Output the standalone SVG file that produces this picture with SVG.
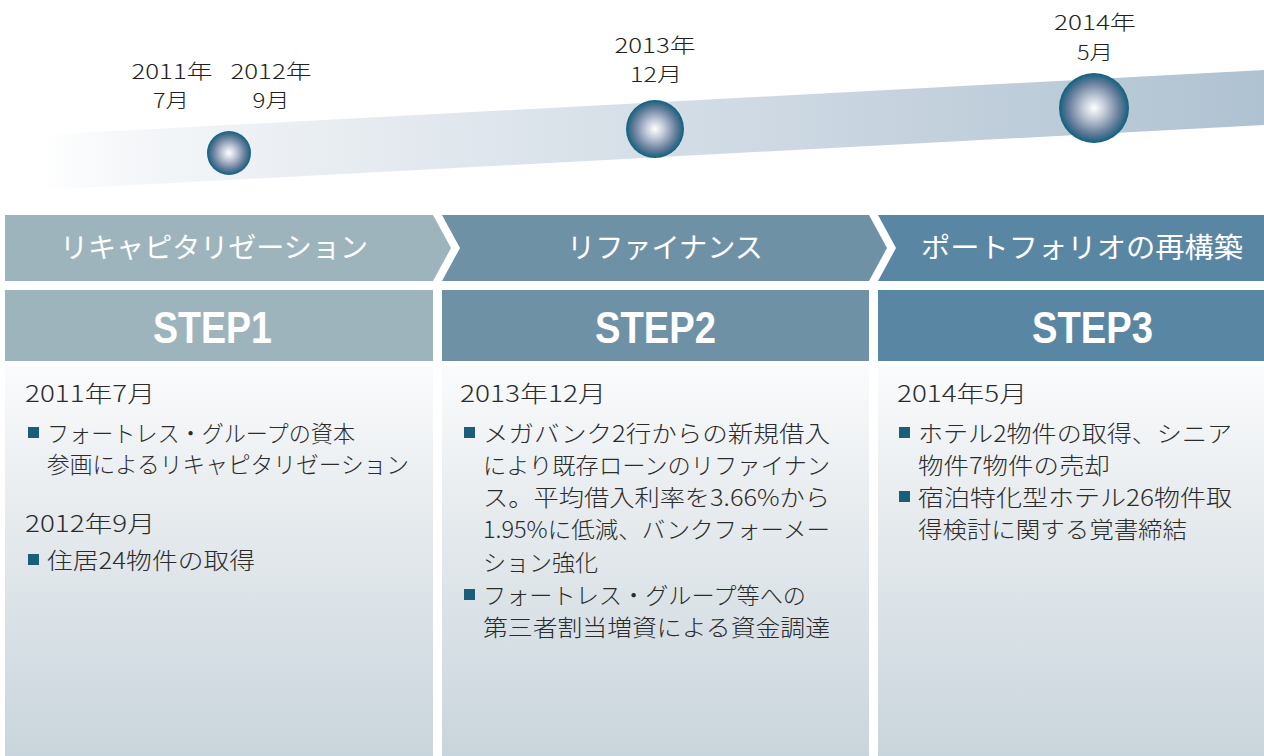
<svg xmlns="http://www.w3.org/2000/svg" width="1264" height="756" viewBox="0 0 1264 756">
  <defs>
    <linearGradient id="band" gradientUnits="userSpaceOnUse" x1="40" y1="0" x2="1264" y2="0">
      <stop offset="0" stop-color="#ffffff"/>
      <stop offset="0.06" stop-color="#f6f8fa"/>
      <stop offset="0.25" stop-color="#e7ecf1"/>
      <stop offset="0.5" stop-color="#d5dee7"/>
      <stop offset="1" stop-color="#afc2d1"/>
    </linearGradient>
    <radialGradient id="ball" cx="0.5" cy="0.5" r="0.5">
      <stop offset="0" stop-color="#ffffff"/>
      <stop offset="0.3" stop-color="#c5cdda"/>
      <stop offset="0.72" stop-color="#687f9c"/>
      <stop offset="1" stop-color="#135f7e"/>
    </radialGradient>
    <linearGradient id="panel" x1="0" y1="0" x2="0" y2="1">
      <stop offset="0" stop-color="#fafbfc"/>
      <stop offset="0.35" stop-color="#e8ecef"/>
      <stop offset="1" stop-color="#c9d5dc"/>
    </linearGradient>
  </defs>
  <style>
    .lbl { font-family: "Noto Sans CJK JP", "Noto Sans", sans-serif; font-weight: 300; font-size: 20px; fill: #231f20; text-anchor: middle; }
    .head { font-family: "Noto Sans CJK JP", "Noto Sans", sans-serif; font-size: 28px; fill: #ffffff; text-anchor: middle; }
    .step { font-family: "Liberation Sans", "Noto Sans", sans-serif; font-weight: bold; font-size: 44px; fill: #ffffff; text-anchor: middle; }
    .body { font-family: "Noto Sans CJK JP", "Noto Sans", sans-serif; font-weight: 300; font-size: 23px; fill: #2b2b2b; }
    .bul { fill: #1b5e7a; }
    .s1 { fill: #9eb4bd; }
    .s2 { fill: #6f91a6; }
    .s3 { fill: #5986a2; }
  </style>

  <g id="timeline">
    <polygon points="40,135 1264,70 1264,125 40,190" fill="url(#band)"/>
  </g>

  <g id="milestone-2011-2012">
    <circle cx="229" cy="153" r="22" fill="url(#ball)"/>
    <text class="lbl" x="172" y="79" textLength="81" lengthAdjust="spacingAndGlyphs">2011年</text>
    <text class="lbl" x="171" y="108" textLength="36" lengthAdjust="spacingAndGlyphs">7月</text>
    <text class="lbl" x="271" y="79" textLength="81" lengthAdjust="spacingAndGlyphs">2012年</text>
    <text class="lbl" x="271" y="108" textLength="37" lengthAdjust="spacingAndGlyphs">9月</text>
  </g>

  <g id="milestone-2013">
    <circle cx="655" cy="129" r="29" fill="url(#ball)"/>
    <text class="lbl" x="655" y="53" textLength="81" lengthAdjust="spacingAndGlyphs">2013年</text>
    <text class="lbl" x="656" y="82" textLength="52" lengthAdjust="spacingAndGlyphs">12月</text>
  </g>

  <g id="milestone-2014">
    <circle cx="1094" cy="108" r="35" fill="url(#ball)"/>
    <text class="lbl" x="1095" y="30" textLength="82" lengthAdjust="spacingAndGlyphs">2014年</text>
    <text class="lbl" x="1095" y="60" textLength="36" lengthAdjust="spacingAndGlyphs">5月</text>
  </g>

  <g id="step1">
    <polygon class="s1" points="5,215 433,215 451,248 433,281 5,281"/>
    <text class="head" x="214" y="258" textLength="308" lengthAdjust="spacingAndGlyphs">リキャピタリゼーション</text>
    <rect class="s1" x="5" y="290" width="428" height="71"/>
    <text class="step" x="212.5" y="343" textLength="119" lengthAdjust="spacingAndGlyphs">STEP1</text>
    <rect x="5" y="366" width="428" height="390" fill="url(#panel)"/>
    <text class="body" x="25" y="402" textLength="130" lengthAdjust="spacingAndGlyphs">2011年7月</text>
    <rect class="bul" x="28" y="427" width="11" height="11"/>
    <text class="body" x="47" y="442" textLength="308" lengthAdjust="spacingAndGlyphs">フォートレス・グループの資本</text>
    <text class="body" x="47" y="473" textLength="362" lengthAdjust="spacingAndGlyphs">参画によるリキャピタリゼーション</text>
    <text class="body" x="25" y="532" textLength="130" lengthAdjust="spacingAndGlyphs">2012年9月</text>
    <rect class="bul" x="28" y="554" width="11" height="11"/>
    <text class="body" x="47" y="569" textLength="208" lengthAdjust="spacingAndGlyphs">住居24物件の取得</text>
  </g>

  <g id="step2">
    <polygon class="s2" points="442,215 869,215 887,248 869,281 442,281 460,248"/>
    <text class="head" x="665" y="258" textLength="196" lengthAdjust="spacingAndGlyphs">リファイナンス</text>
    <rect class="s2" x="442" y="290" width="427" height="71"/>
    <text class="step" x="655.5" y="343" textLength="121" lengthAdjust="spacingAndGlyphs">STEP2</text>
    <rect x="442" y="366" width="427" height="390" fill="url(#panel)"/>
    <text class="body" x="460" y="402" textLength="146" lengthAdjust="spacingAndGlyphs">2013年12月</text>
    <rect class="bul" x="464" y="427" width="11" height="11"/>
    <text class="body" x="483" y="442" textLength="347" lengthAdjust="spacingAndGlyphs">メガバンク2行からの新規借入</text>
    <text class="body" x="483" y="474" textLength="347" lengthAdjust="spacingAndGlyphs">により既存ローンのリファイナン</text>
    <text class="body" x="483" y="506" textLength="347" lengthAdjust="spacingAndGlyphs">ス。平均借入利率を3.66%から</text>
    <text class="body" x="483" y="538" textLength="347" lengthAdjust="spacingAndGlyphs">1.95%に低減、バンクフォーメー</text>
    <text class="body" x="483" y="571" textLength="115" lengthAdjust="spacingAndGlyphs">ション強化</text>
    <rect class="bul" x="464" y="589" width="11" height="11"/>
    <text class="body" x="483" y="604" textLength="323" lengthAdjust="spacingAndGlyphs">フォートレス・グループ等への</text>
    <text class="body" x="483" y="636" textLength="347" lengthAdjust="spacingAndGlyphs">第三者割当増資による資金調達</text>
  </g>

  <g id="step3">
    <polygon class="s3" points="878,215 1264,215 1264,281 878,281 896,248"/>
    <text class="head" x="1082" y="258" textLength="322" lengthAdjust="spacingAndGlyphs">ポートフォリオの再構築</text>
    <rect class="s3" x="878" y="290" width="386" height="71"/>
    <text class="step" x="1092.5" y="343" textLength="121" lengthAdjust="spacingAndGlyphs">STEP3</text>
    <rect x="878" y="366" width="386" height="390" fill="url(#panel)"/>
    <text class="body" x="897" y="402" textLength="130" lengthAdjust="spacingAndGlyphs">2014年5月</text>
    <rect class="bul" x="899" y="427" width="11" height="11"/>
    <text class="body" x="918" y="442" textLength="314" lengthAdjust="spacingAndGlyphs">ホテル2物件の取得、シニア</text>
    <text class="body" x="918" y="474" textLength="192" lengthAdjust="spacingAndGlyphs">物件7物件の売却</text>
    <rect class="bul" x="899" y="491" width="11" height="11"/>
    <text class="body" x="918" y="506" textLength="314" lengthAdjust="spacingAndGlyphs">宿泊特化型ホテル26物件取</text>
    <text class="body" x="918" y="538" textLength="269" lengthAdjust="spacingAndGlyphs">得検討に関する覚書締結</text>
  </g>

  <g id="connectors"/>
</svg>
